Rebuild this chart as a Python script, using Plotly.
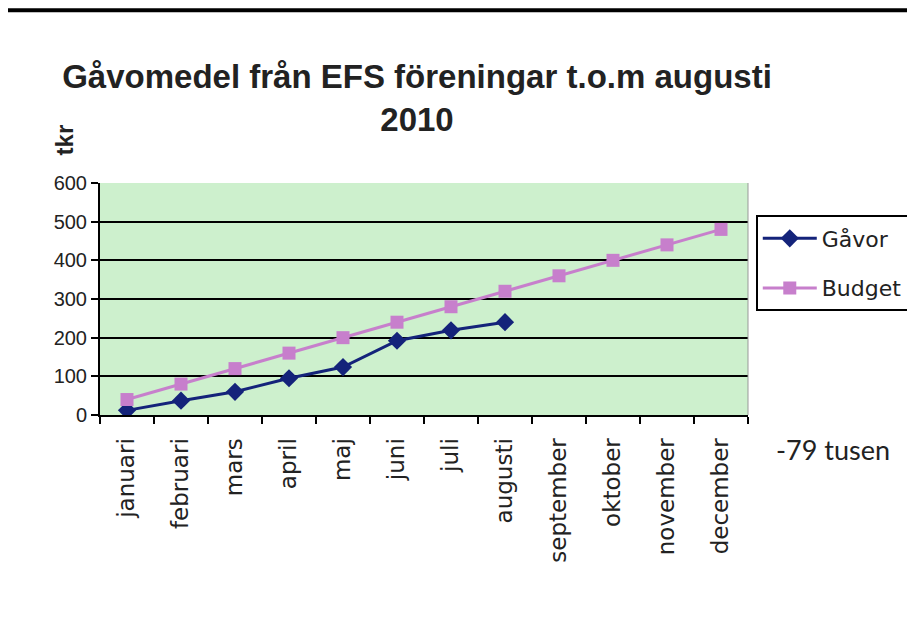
import plotly.graph_objects as go

months = ["januari", "februari", "mars", "april", "maj", "juni", "juli",
          "augusti", "september", "oktober", "november", "december"]
gavor = [12, 37, 60, 95, 124, 192, 219, 240]
budget = [40, 80, 120, 160, 200, 240, 280, 320, 360, 400, 440, 480]
y_ticks = [0, 100, 200, 300, 400, 500, 600]

fig = go.Figure()
fig.add_trace(go.Scatter(
    x=months[:len(gavor)], y=gavor, name="Gåvor", mode="lines+markers",
    line=dict(color="#14237a", width=3),
    marker=dict(symbol="diamond", size=14, color="#14237a"),
    legendgroup="a"))
fig.add_trace(go.Scatter(
    x=months, y=budget, name="Budget", mode="lines+markers",
    line=dict(color="#c77fcc", width=3),
    marker=dict(symbol="square", size=13, color="#c77fcc"),
    legendgroup="b"))

fig.update_layout(
    width=915, height=643,
    margin=dict(l=92, r=175, t=175, b=236),
    paper_bgcolor="white",
    plot_bgcolor="#cdf0cd",
    title=dict(text="<b>Gåvomedel från EFS föreningar t.o.m augusti<br>2010</b>",
               x=0.447, xanchor="center", y=0.876, yanchor="middle",
               font=dict(family="Liberation Sans", size=33, color="#222")),
    showlegend=True,
    legend=dict(x=1.012, y=0.86, xanchor="left", yanchor="top",
                bordercolor="black", borderwidth=2, bgcolor="white",
                font=dict(family="DejaVu Sans", size=22, color="#222"),
                itemwidth=54,
                tracegroupgap=18, traceorder="grouped"),
    xaxis=dict(type="category", categoryorder="array", categoryarray=months,
               range=[-0.5, 11.5], tickson="boundaries",
               ticks="outside", ticklen=7, tickwidth=2, tickcolor="black",
               tickangle=-90, showgrid=False, ticklabelstandoff=12,
               showline=True, linecolor="black", linewidth=2,
               tickfont=dict(family="DejaVu Sans", size=23, color="#222")),
    yaxis=dict(range=[0, 600], tickvals=y_ticks, ticks="outside", ticklen=7,
               tickwidth=2, tickcolor="black",
               showgrid=True, gridcolor="black", gridwidth=2,
               zeroline=False, showline=True, linecolor="black", linewidth=2,
               tickfont=dict(family="Liberation Sans", size=20, color="#222")),
    annotations=[
        dict(text="<b>tkr</b>", xref="paper", yref="paper", x=-0.055, y=1.185,
             textangle=-90, showarrow=False, xanchor="center", yanchor="middle",
             font=dict(family="Liberation Sans", size=24, color="#222")),
        dict(text="-79 tusen", xref="paper", yref="paper", x=1.04, y=-0.15,
             showarrow=False, xanchor="left", yanchor="middle",
             font=dict(family="Lato", size=27, color="#222")),
    ],
    shapes=[
        dict(type="line", xref="paper", yref="paper", x0=-0.16, x1=1.28,
             y0=1.745, y1=1.745, line=dict(color="black", width=4)),
        dict(type="line", xref="paper", yref="paper", x0=1.0, x1=1.0,
             y0=0, y1=1, line=dict(color="#999", width=1)),
    ],
)

fig.write_html("out.html")
